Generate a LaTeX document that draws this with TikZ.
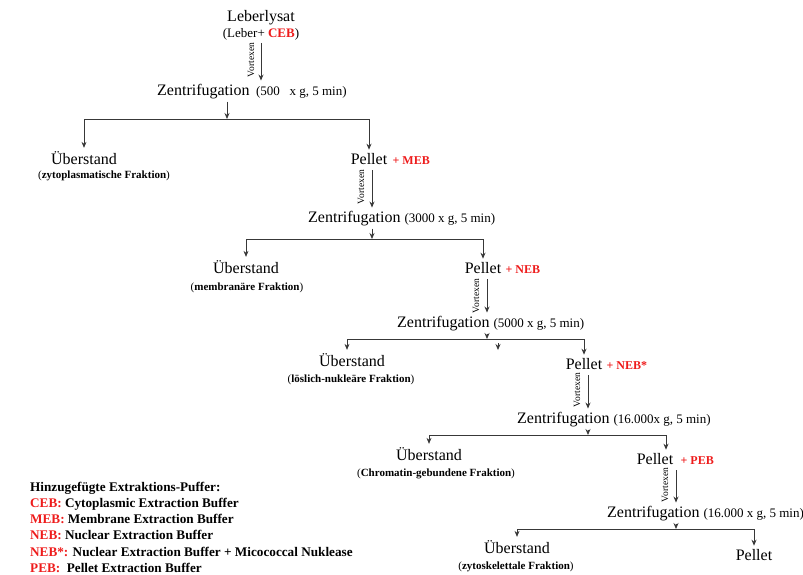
\documentclass[tikz,border=0pt]{standalone}
\usepackage{fontspec}
\setmainfont{Liberation Serif}
\definecolor{bufred}{RGB}{238,28,28}
\definecolor{flowgray}{RGB}{56,56,56}
\usetikzlibrary{arrows.meta,positioning,calc}

\begin{document}
\begin{tikzpicture}[
    x=1pt, y=-1pt,
    steptxt/.style={font=\fontsize{16}{19}\selectfont, inner sep=3pt, anchor=base},
    condtxt/.style={font=\fontsize{13}{15}\selectfont, inner sep=0pt, anchor=base west},
    fraktxt/.style={font=\fontsize{11}{13}\selectfont, inner sep=0pt, anchor=base},
    buftxt/.style={font=\fontsize{12}{14}\selectfont\bfseries, text=bufred,
                   inner sep=0pt, anchor=base west},
    vortxt/.style={font=\fontsize{9.5}{11}\selectfont, rotate=90, inner sep=0pt},
    legtxt/.style={font=\fontsize{13.2}{15}\selectfont\bfseries, inner sep=0pt,
                   anchor=base west},
    flow/.style={-{Stealth[length=6pt,width=5pt]}, draw=flowgray, line width=0.8pt},
    vortex/.style={flow, shorten <=3pt}
  ]
    \useasboundingbox (0,0) rectangle (803,574);

    % Start: liver lysate
    \node[steptxt] (lysat) at (261,21) {Leberlysat};
    \node[condtxt, anchor=base] (lysatmix) at (261,37)
      {(Leber+ \textcolor{bufred}{\textbf{CEB}})};

    % Stage 1: 500 x g
    \node[steptxt, anchor=base west] (z1) at (154,95) {Zentrifugation};
    \node[condtxt] (c1) at ([xshift=3pt]z1.base east) {(500 \ \ x g, 5 min)};
    \coordinate (j1) at (227,119);
    \node[steptxt] (u1) at (84,164) {Überstand};
    \node[fraktxt] (f1) at (104,178) {(\textbf{zytoplasmatische Fraktion})};
    \node[steptxt] (pe1) at (369,164) {Pellet};
    \node[buftxt] (b1) at ([xshift=2pt]pe1.base east) {+ MEB};
    \node[vortxt] (v1) at (251,60) {Vortexen};

    \draw[vortex] (lysatmix.south) -- (z1.north -| lysatmix.south);
    \draw[flow] (z1.south -| j1) -- (j1);
    \draw[flow] (j1) -| (u1.north);
    \draw[flow] (j1) -| (pe1.north);

    % Stage 2: 3000 x g
    \node[steptxt, anchor=base west] (z2) at (305,222) {Zentrifugation};
    \node[condtxt] (c2) at ([xshift=0.5pt]z2.base east) {(3000 x g, 5 min)};
    \coordinate (j2) at (372,239);
    \node[steptxt] (u2) at (246,273) {Überstand};
    \node[fraktxt] (f2) at (247,290) {(\textbf{membranäre Fraktion})};
    \node[steptxt] (pe2) at (483,273) {Pellet};
    \node[buftxt] (b2) at ([xshift=1pt]pe2.base east) {+ NEB};
    \node[vortxt] (v2) at (361,187) {Vortexen};

    \draw[vortex] (pe1.south -| j2) -- (z2.north -| j2);
    \draw[flow] (z2.south -| j2) -- (j2);
    \draw[flow] (j2) -| (u2.north);
    \draw[flow] (j2) -| (pe2.north);

    % Stage 3: 5000 x g
    \node[steptxt, anchor=base west] (z3) at (394,327) {Zentrifugation};
    \node[condtxt] (c3) at ([xshift=0.5pt]z3.base east) {(5000 x g, 5 min)};
    \coordinate (j3) at (487,339);
    \coordinate (s3) at (498,343);
    \node[steptxt] (u3) at (352,366) {Überstand};
    \node[fraktxt] (f3) at (351,382) {(\textbf{löslich-nukleäre Fraktion})};
    \node[steptxt] (pe3) at (584,369) {Pellet};
    \node[buftxt] (b3) at ([xshift=1pt]pe3.base east) {+ NEB*};
    \node[vortxt] (v3) at (476,296) {Vortexen};

    \draw[vortex] (pe2.south -| j3) -- (z3.north -| j3);
    \draw[flow] (z3.south -| j3) -- (j3);
    \draw[flow] (s3) -- ++(0,7);
    \draw[flow] (j3) -| ([xshift=-5pt]u3.north);
    \draw[flow] (j3) -| (pe3.north);

    % Stage 4: 16.000 x g
    \node[steptxt, anchor=base west] (z4) at (514,423) {Zentrifugation};
    \node[condtxt] (c4) at ([xshift=0.5pt]z4.base east) {(16.000x g, 5 min)};
    \coordinate (j4) at (588,435);
    \node[steptxt] (u4) at (429,460) {Überstand};
    \node[fraktxt] (f4) at (436,476) {(\textbf{Chromatin-gebundene Fraktion})};
    \node[steptxt] (pe4) at (655,464) {Pellet};
    \node[buftxt] (b4) at ([xshift=4pt]pe4.base east) {+ PEB};
    \node[vortxt] (v4) at (577,390) {Vortexen};

    \draw[vortex] (pe3.south -| j4) -- (z4.north -| j4);
    \draw[flow] (z4.south -| j4) -- (j4);
    \draw[flow] (j4) -| (u4.north);
    \draw[flow] (j4) -| ([xshift=11pt]pe4.north);

    % Stage 5: 16.000 x g
    \node[steptxt, anchor=base west] (z5) at (604,517) {Zentrifugation};
    \node[condtxt] (c5) at ([xshift=0.5pt]z5.base east) {(16.000 x g, 5 min)};
    \coordinate (j5) at (676,529);
    \node[steptxt] (u5) at (517,553) {Überstand};
    \node[fraktxt] (f5) at (516,569) {(\textbf{zytoskelettale Fraktion})};
    \node[steptxt] (pe5) at (754,560) {Pellet};
    \node[vortxt] (v5) at (665,485) {Vortexen};

    \draw[vortex] (pe4.south -| j5) -- (z5.north -| j5);
    \draw[flow] (z5.south -| j5) -- (j5);
    \draw[flow] (j5) -| (u5.north);
    \draw[flow] (j5) -| (pe5.north);

    % Buffer legend
    \node[legtxt] (leg0) at (30,491) {Hinzugefügte Extraktions-Puffer:};
    \node[legtxt] (leg1) at (30,507) {\textcolor{bufred}{CEB:} Cytoplasmic Extraction Buffer};
    \node[legtxt] (leg2) at (30,523) {\textcolor{bufred}{MEB:} Membrane Extraction Buffer};
    \node[legtxt] (leg3) at (30,539) {\textcolor{bufred}{NEB:} Nuclear Extraction Buffer};
    \node[legtxt] (leg4) at (30,556) {\textcolor{bufred}{NEB*:} Nuclear Extraction Buffer + Micococcal Nuklease};
    \node[legtxt] (leg5) at (30,572) {\textcolor{bufred}{PEB:}\ \ Pellet Extraction Buffer};
\end{tikzpicture}
\end{document}
